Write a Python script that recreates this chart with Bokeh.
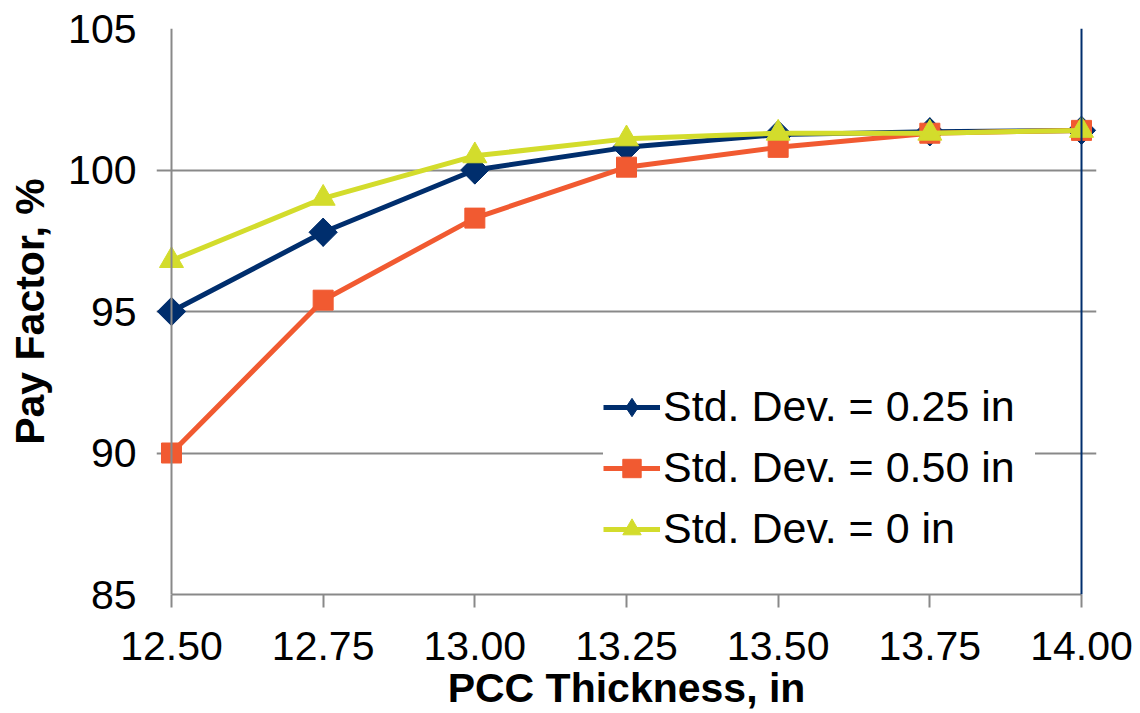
from math import pi
from bokeh.plotting import figure
from bokeh.models import (Range1d, FixedTicker, PrintfTickFormatter, Legend,
                          LegendItem, Span)
from bokeh.embed import file_html
from bokeh.resources import INLINE

# ---- data ----
thickness = [12.50, 12.75, 13.00, 13.25, 13.50, 13.75, 14.00]
sd_025 = [95.0, 97.8, 100.0, 100.8, 101.25, 101.35, 101.4]
sd_050 = [90.0, 95.4, 98.3, 100.1, 100.8, 101.3, 101.4]
sd_000 = [96.8, 99.0, 100.5, 101.1, 101.3, 101.3, 101.4]
x_ticks = [12.50, 12.75, 13.00, 13.25, 13.50, 13.75, 14.00]
y_ticks = [85, 90, 95, 100, 105]
labels = ["Std. Dev. = 0.25 in", "Std. Dev. = 0.50 in", "Std. Dev. = 0 in"]

NAVY = "#002e6d"
ORANGE = "#f15a31"
LIME = "#d3dc2c"
GRAY = "#898989"
FONT = "Liberation Sans"
FS = "41px"

xmin, xmax = x_ticks[0], x_ticks[-1]
pad = 15 / 606.667
p = figure(width=1140, height=713, output_backend="svg", toolbar_location=None,
           x_range=Range1d(xmin - pad, xmax + pad),
           y_range=Range1d(y_ticks[0], y_ticks[-1]),
           min_border_left=156, min_border_right=44,
           min_border_top=28, min_border_bottom=119)
p.outline_line_color = None
p.background_fill_color = "white"
p.border_fill_color = "white"

# axes
p.xaxis.ticker = FixedTicker(ticks=x_ticks)
p.xaxis.formatter = PrintfTickFormatter(format="%.2f")
p.xaxis.bounds = (xmin, xmax)
p.xaxis.axis_label = "PCC Thickness, in"
p.yaxis.ticker = FixedTicker(ticks=y_ticks)
p.yaxis.axis_label = "Pay Factor, %"
for ax in (p.xaxis, p.yaxis):
    ax.axis_line_color = GRAY
    ax.axis_line_width = 2
    ax.major_tick_line_color = GRAY
    ax.major_tick_line_width = 2
    ax.major_tick_out = 13
    ax.major_tick_in = 0
    ax.minor_tick_line_color = None
    ax.major_label_text_font = FONT
    ax.major_label_text_font_size = FS
    ax.major_label_text_color = "black"
    ax.axis_label_text_font = FONT
    ax.axis_label_text_font_size = FS
    ax.axis_label_text_font_style = "bold"
    ax.axis_label_text_color = "black"
p.xaxis.major_label_standoff = 24
p.xaxis.axis_label_standoff = 2
# y axis sits at the frame edge; the grid lines' left stubs act as its ticks
p.yaxis.axis_line_color = None
p.yaxis.major_tick_line_color = None
p.yaxis.major_tick_out = 0
p.yaxis.major_label_standoff = 20
p.yaxis.axis_label_standoff = 12

p.xgrid.grid_line_color = None
p.ygrid.ticker = FixedTicker(ticks=y_ticks)
p.ygrid.grid_line_color = GRAY
p.ygrid.grid_line_width = 2
p.ygrid.bounds = (xmin - pad, xmax)

p.add_layout(Span(location=xmin, dimension="height", line_color=GRAY, line_width=2))
p.add_layout(Span(location=xmax, dimension="height", line_color=NAVY, line_width=2))

# series
l1 = p.line(thickness, sd_025, line_color=NAVY, line_width=5)
d1 = p.scatter(thickness, sd_025, marker="diamond", size=28,
               fill_color=NAVY, line_color=NAVY)
m1 = p.scatter(thickness, sd_025, marker="square", angle=pi / 4, size=20,
               fill_color=NAVY, line_color=NAVY)
l2 = p.line(thickness, sd_050, line_color=ORANGE, line_width=5)
m2 = p.scatter(thickness, sd_050, marker="square", size=20,
               fill_color=ORANGE, line_color=ORANGE)
l3 = p.line(thickness, sd_000, line_color=LIME, line_width=5)
m3 = p.scatter(thickness, sd_000, marker="triangle", size=24,
               fill_color=LIME, line_color=LIME)

legend = Legend(items=[LegendItem(label=labels[0], renderers=[l1, d1]),
                       LegendItem(label=labels[1], renderers=[l2, m2]),
                       LegendItem(label=labels[2], renderers=[l3, m3])],
                location=(447, 41), margin=0, padding=0, spacing=12,
                glyph_width=57, glyph_height=46, label_height=46,
                label_width=372, label_standoff=3, label_text_font=FONT,
                label_text_font_size="43px", label_text_color="black",
                border_line_color=None, background_fill_color="white",
                background_fill_alpha=1.0)
p.add_layout(legend, "center")

open("out.html", "w").write(file_html(p, INLINE))
